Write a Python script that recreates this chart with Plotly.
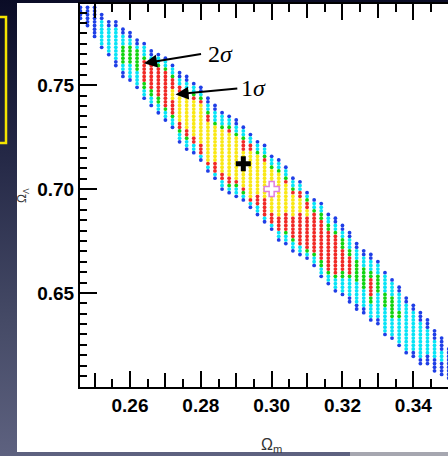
import base64
import plotly.graph_objects as go

# ---------------- data ----------------
# scan grid columns (Omega_m) and, per column, the Omega_Lambda of the top dot
omega_m_cols = [0.246, 0.248, 0.250, 0.252, 0.254, 0.256, 0.258, 0.260, 0.262, 0.264,
                0.266, 0.268, 0.270, 0.272, 0.274, 0.276, 0.278, 0.280, 0.282, 0.284,
                0.286, 0.288, 0.290, 0.292, 0.294, 0.296, 0.298, 0.300, 0.302, 0.304,
                0.306, 0.308, 0.310, 0.312, 0.314, 0.316, 0.318, 0.320, 0.322, 0.324,
                0.326, 0.328, 0.330, 0.332, 0.334, 0.336, 0.338, 0.340, 0.342, 0.344,
                0.346, 0.348, 0.350]
omega_l_top = [0.7875, 0.7875, 0.7875, 0.7840, 0.7805, 0.7805, 0.7770, 0.77525, 0.77175, 0.7700,
               0.7665, 0.76475, 0.7630, 0.7595, 0.7560, 0.75425, 0.75075, 0.7490, 0.74375, 0.74025,
               0.73675, 0.7350, 0.73325, 0.72975, 0.72625, 0.72275, 0.7210, 0.71575, 0.7140, 0.7105,
               0.70525, 0.7035, 0.69825, 0.69475, 0.6930, 0.68775, 0.6860, 0.6825, 0.6790, 0.67375,
               0.67025, 0.6685, 0.6650, 0.65975, 0.65625, 0.65275, 0.6475, 0.6440, 0.6405, 0.6370,
               0.63175, 0.62825, 0.6230]
# confidence level of each dot, top to bottom (B=blue, C=cyan, G=green, R=red, Y=yellow)
col_levels = [
    "BBBB", "BBBBBB", "BBBBBBBBB", "BBCCCCCCCB", "BBCCCCCCCB",
    "BBCCCCCCCCCBB", "BBCCCGGGGGCCBB", "BBCCGGGGGCCCCB", "BBCGGGGGGCCCCB", "BCCCGRRRRRRGGCCB",
    "BBCGRRRRRRRGGCCB", "BCCGRRRRRRRRGGCCB", "BCCGRRRRRRRRRRGCCB", "BCCGRRRYYYRRRRGCCB", "BBCCRRYYYYYYYYRRGCCB",
    "BBCCGRYYYYYYYYYRRGCCB", "BCCGRYYYYYYYYYYRRCCB", "BBCGRYYYYYYYYYYYRRRCB", "BBCCGRRYYYYYYYYYYYRCB", "BBCCCGYYYYYYYYYYRRRCB",
    "BCCCGYYYYYYYYYYYYRRCCB", "BCCGRYYYYYYYYYYYYRRGCB", "BBCCGYYYYYYYYYYYYRGCCB", "BCCGRRRYYYYYYYYYYRGCB", "BCCRRYYYYYYYYYYYYYRCB",
    "BCCGYYYYYYYYYYYRRRCCB", "BCCGRYYYYYYYYYYRRRRRCB", "BCCGYYYYYYYYYYYYRRRCB", "BCCGYYYYYYYYYYYYRRRRCCB", "BCCGRYYYYYYYYRRRRRGCCB",
    "BCCGRYYYYYYRRRRRRGCCB", "BCCRRYYYYRRRRRRRRRCCB", "BCGRRYYRRRRRRRRRGCB", "BCCGRRRRRRRRRRRGCCB", "BCCGGRRRRRRRRRRRGGCCB",
    "BCCGGRRRRRRRRRRRGCCB", "BBCCGRRRRRRRRRRRGCCCB", "BBCCGGGRRRRRRGGCCCCB", "BBCCCGGRRRRRGCCCCCBB", "BBCCCGGGGGGCCCCCCBB",
    "BBCCCGGGGGGCCCCCBB", "BBCCCGGRRRRRGGCCCCB", "BCCCGGGGGCCCCCCCBB", "BCCCCCGGGGCCCCCCCB", "BCCCCGGGGGGCCCCCB",
    "BBCCCCCGGCCCCCCCB", "BBCCCCCCCCCCCCCB", "BBCCCCCCCCCCCBB", "BBBCCCCCCCCCCBB", "BBBCCCCCCCBBB",
    "BBBCCCCCBBBB", "BBBBCCCBBBB", "BBBBBBBBB",
]
row_step = 0.00175

level_order = ["B", "C", "G", "R", "Y"]
level_colors = {"B": "#1f3fe6", "C": "#08e4f6", "G": "#12d412", "R": "#f02a26", "Y": "#f9e816"}

best_fit = [0.292, 0.7122]
fiducial = [0.300, 0.700]

x_label_vals = [0.26, 0.28, 0.30, 0.32, 0.34]
x_label_text = ["0.26", "0.28", "0.30", "0.32", "0.34"]
x_mid_vals = [0.25, 0.27, 0.29, 0.31, 0.33]
x_minor_vals = [0.245, 0.255, 0.265, 0.275, 0.285, 0.295, 0.305, 0.315, 0.325, 0.335, 0.345]
y_tick_vals = [0.65, 0.70, 0.75]
y_tick_text = ["0.65", "0.70", "0.75"]
y_minor_vals = [0.605, 0.61, 0.615, 0.62, 0.625, 0.63, 0.635, 0.64, 0.645, 0.655, 0.66, 0.665,
                0.67, 0.675, 0.68, 0.685, 0.69, 0.695, 0.705, 0.71, 0.715, 0.72, 0.725, 0.73,
                0.735, 0.74, 0.745, 0.755, 0.76, 0.765, 0.77, 0.775, 0.78, 0.785]

X_RANGE = [0.24588, 0.3498]
Y_RANGE = [0.6047, 0.7891]

# ---------------- figure ----------------
fig = go.Figure()
for lev in level_order:
    xs, ys = [], []
    for xm, top, s in zip(omega_m_cols, omega_l_top, col_levels):
        for i, c in enumerate(s):
            if c == lev:
                xs.append(xm)
                ys.append(round(top - i * row_step, 6))
    fig.add_trace(go.Scatter(x=xs, y=ys, mode="markers",
                             marker=dict(size=3.8, color=level_colors[lev], line=dict(width=0)),
                             showlegend=False, hoverinfo="skip"))

fig.add_trace(go.Scatter(x=[fiducial[0]], y=[fiducial[1]], mode="markers",
                         marker=dict(symbol="cross", size=12.5, color="white",
                                     line=dict(color="#e07fe0", width=1.5)),
                         showlegend=False, hoverinfo="skip"))
fig.add_trace(go.Scatter(x=[best_fit[0]], y=[best_fit[1]], mode="markers",
                         marker=dict(symbol="cross", size=12.5, color="black", line=dict(width=0)),
                         showlegend=False, hoverinfo="skip"))
# empty trace so that the second (unlabelled tick) x axis is drawn
fig.add_trace(go.Scatter(x=[], y=[], xaxis="x2", yaxis="y", showlegend=False, hoverinfo="skip"))

tick_font = dict(family="Liberation Sans, Arial, sans-serif", size=19, color="black", weight="bold")

fig.update_layout(
    xaxis=dict(range=X_RANGE, showline=True, linecolor="black", linewidth=2,
               mirror="ticks", ticks="inside", ticklen=16, tickwidth=1.5, tickcolor="black",
               tickmode="array", tickvals=x_label_vals, ticktext=x_label_text, tickfont=tick_font,
               minor=dict(tickmode="array", tickvals=x_minor_vals, ticks="inside", ticklen=8,
                          tickwidth=1.5, tickcolor="black"),
               showgrid=False, zeroline=False),
    xaxis2=dict(range=X_RANGE, overlaying="x", anchor="y", side="bottom", showline=False,
                mirror="ticks", ticks="inside", ticklen=14, tickwidth=1.5, tickcolor="black",
                tickmode="array", tickvals=x_mid_vals, showticklabels=False,
                showgrid=False, zeroline=False),
    yaxis=dict(range=Y_RANGE, showline=True, linecolor="black", linewidth=2,
               mirror=False, ticks="inside", ticklen=17, tickwidth=1.5, tickcolor="black",
               tickmode="array", tickvals=y_tick_vals, ticktext=y_tick_text, tickfont=tick_font,
               minor=dict(tickmode="array", tickvals=y_minor_vals, ticks="inside", ticklen=7,
                          tickwidth=1.5, tickcolor="black"),
               showgrid=False, zeroline=False),
)

svg = ('<svg xmlns="http://www.w3.org/2000/svg" width="448" height="456" viewBox="0 0 448 456" '
       'preserveAspectRatio="none"><defs><linearGradient id="g" x1="0" y1="0" x2="0" y2="1">'
       '<stop offset="0" stop-color="#0a0c26"/><stop offset="0.35" stop-color="#252947"/>'
       '<stop offset="0.7" stop-color="#454a66"/><stop offset="1" stop-color="#5e6280"/>'
       '</linearGradient></defs><rect width="448" height="456" fill="url(#g)"/></svg>')
bg_uri = "data:image/svg+xml;base64," + base64.b64encode(svg.encode()).decode()

W, H = 448, 456
L, T, B = 80, 4, 387
PW, PH = W - L, B - T


def px(x):
    return (x - L) / PW


def py(y):
    return (B - y) / PH


sigma_font = dict(family="Liberation Serif, Times New Roman, serif", size=24, color="black")

fig.update_layout(
    width=W, height=H, margin=dict(l=L, r=0, t=T, b=H - B, pad=0),
    paper_bgcolor="#2a2e4a", plot_bgcolor="white", showlegend=False,
    images=[dict(source=bg_uri, xref="paper", yref="paper", x=px(-2), y=py(-2),
                 sizex=px(W + 2) - px(-2), sizey=py(-2) - py(H + 2),
                 xanchor="left", yanchor="top", sizing="stretch", layer="below")],
    shapes=[
        dict(type="rect", xref="paper", yref="paper", x0=px(17), x1=px(W + 5), y0=py(452), y1=py(3),
             fillcolor="white", line=dict(width=0), layer="below"),
        dict(type="rect", xref="paper", yref="paper", x0=px(350), x1=px(W + 5), y0=py(H + 2), y1=py(452),
             fillcolor="#a6a7b0", line=dict(width=0), layer="below"),
        dict(type="rect", xref="paper", yref="paper", x0=px(-6), x1=px(6), y0=py(143), y1=py(17),
             fillcolor="rgba(0,0,0,0)", line=dict(color="#f4e400", width=2.5), layer="above"),
    ],
    annotations=[
        dict(x=0.26396, y=0.76059, ax=0.28006, ay=0.76507, xref="x", yref="y", axref="x", ayref="y",
             text="2<i>σ</i>", xanchor="left", yanchor="middle", borderpad=6, font=sigma_font,
             showarrow=True, arrowhead=2, arrowsize=1.3, arrowwidth=2, arrowcolor="black",
             standoff=0, startstandoff=0),
        dict(x=0.27286, y=0.74557, ax=0.29030, ay=0.74846, xref="x", yref="y", axref="x", ayref="y",
             text="1<i>σ</i>", xanchor="left", yanchor="middle", borderpad=3, font=sigma_font,
             showarrow=True, arrowhead=2, arrowsize=1.3, arrowwidth=2, arrowcolor="black",
             standoff=0, startstandoff=0),
        dict(x=px(271.5), y=py(445), xref="paper", yref="paper", text="Ω<sub>m</sub>",
             showarrow=False, xanchor="center", yanchor="middle",
             font=dict(family="Liberation Sans, Arial, sans-serif", size=16, color="#333333")),
        dict(x=px(23), y=py(196), xref="paper", yref="paper", text="Ω<sub>Λ</sub>",
             showarrow=False, xanchor="center", yanchor="middle", textangle=-90,
             font=dict(family="Liberation Sans, Arial, sans-serif", size=12, color="#333333")),
    ],
)

fig.write_html("out.html", config={"displayModeBar": False},
               post_script="document.body.style.margin='0';document.body.style.overflow='hidden';")
